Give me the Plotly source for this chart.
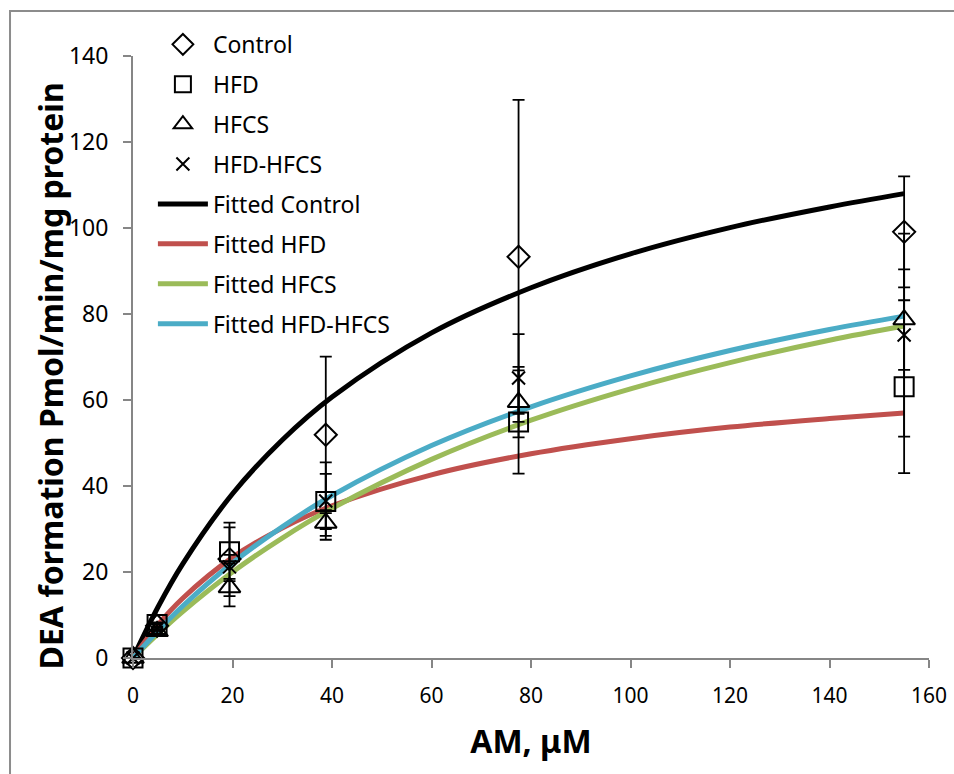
import plotly.graph_objects as go

# ---- data ----
am = [0, 4.84, 19.4, 38.75, 77.5, 155]

control = [0, 7.5, 23.0, 51.9, 93.3, 99.1]
control_err = [0, 0.5, 1.0, 18.2, 36.5, 12.9]
hfd = [0, 7.8, 24.7, 36.4, 54.9, 63.1]
hfd_err = [0, 0.5, 6.8, 6.4, 12.0, 20.1]
hfcs = [0, 6.2, 16.4, 31.4, 59.5, 78.7]
hfcs_err = [0, 0.5, 2.0, 3.0, 8.2, 11.7]
hfdhfcs = [0, 6.8, 21.2, 36.5, 65.1, 75.1]
hfdhfcs_err = [0, 0.5, 9.2, 9.0, 10.2, 23.6]

# fitted curves
fit_x = [0, 5, 10, 20, 30, 40, 60, 80, 100, 120, 140, 155]
fit_control = [0, 11.8, 21.9, 38.2, 50.7, 60.7, 75.6, 86.1, 94.0, 100.1, 104.9, 108.0]
fit_hfd = [0, 7.7, 13.9, 23.4, 30.2, 35.4, 42.6, 47.5, 51.0, 53.7, 55.7, 57.0]
fit_hfcs = [0, 5.6, 10.8, 20.0, 27.9, 34.8, 46.2, 55.3, 62.6, 68.7, 73.9, 77.2]
fit_hfdhfcs = [0, 6.3, 12.1, 22.1, 30.5, 37.8, 49.4, 58.4, 65.6, 71.5, 76.4, 79.5]

x_ticks = [0, 20, 40, 60, 80, 100, 120, 140, 160]
y_ticks = [0, 20, 40, 60, 80, 100, 120, 140]

FONT = "Noto Sans"

fig = go.Figure()

marker_series = [
    ("Control", control, control_err, "diamond-open", 17),
    ("HFD", hfd, hfd_err, "square-open", 19),
    ("HFCS", hfcs, hfcs_err, "triangle-up-open", 19),
    ("HFD-HFCS", hfdhfcs, hfdhfcs_err, "x-thin-open", 13),
]
line_series = [
    ("Fitted Control", fit_control, "#000000"),
    ("Fitted HFD", fit_hfd, "#C0504D"),
    ("Fitted HFCS", fit_hfcs, "#9BBB59"),
    ("Fitted HFD-HFCS", fit_hfdhfcs, "#4BACC6"),
]

for name, ys, col in line_series:
    fig.add_trace(go.Scatter(
        x=fit_x, y=ys, mode="lines", name=name,
        line=dict(color=col, width=5, shape="spline"),
        legendgroup=name, legendrank=2, cliponaxis=False,
    ))

for name, ys, err, sym, sz in marker_series:
    fig.add_trace(go.Scatter(
        x=am, y=ys, mode="markers", name=name,
        marker=dict(symbol=sym, size=sz, color="#000000",
                    line=dict(color="#000000", width=2)),
        error_y=dict(type="data", array=err, visible=True,
                     color="#000000", thickness=1.8, width=6),
        legendgroup=name, legendrank=1, cliponaxis=False,
    ))

# outer chart frame
fig.add_shape(type="rect", xref="paper", yref="paper",
              x0=-0.1545, x1=1.04, y0=-0.21, y1=1.0748,
              line=dict(color="#8C8C8C", width=2), fillcolor="rgba(0,0,0,0)",
              layer="below")

# y-axis title placed as annotation (Excel positions it slightly below centre)
fig.add_annotation(
    text="<b>DEA formation Pmol/min/mg protein</b>",
    xref="paper", yref="paper", x=-0.104, y=0.468,
    xanchor="center", yanchor="middle", textangle=-90, showarrow=False,
    font=dict(family=FONT, size=32, color="#000000"),
)

fig.update_layout(
    width=954, height=774,
    margin=dict(l=133, r=25, t=56, b=116, autoexpand=False),
    paper_bgcolor="white", plot_bgcolor="white",
    font=dict(family=FONT, color="#000000"),
    showlegend=True,
    legend=dict(
        x=0.025, y=1.055, xanchor="left", yanchor="top",
        font=dict(family=FONT, size=23, color="#000000"),
        bgcolor="rgba(0,0,0,0)", tracegroupgap=7, itemwidth=50,
    ),
    xaxis=dict(
        range=[0, 160], tickvals=x_ticks, ticktext=[str(v) for v in x_ticks],
        showgrid=False, zeroline=False, showline=True, automargin=False,
        linecolor="#868686", linewidth=2,
        ticks="outside", ticklen=8, tickwidth=2, tickcolor="#868686",
        ticklabelstandoff=10,
        tickfont=dict(family="Liberation Sans Narrow, " + FONT, size=21),
        title=dict(text="<b>AM, μM</b>", standoff=22,
                   font=dict(family="Liberation Sans Narrow, " + FONT, size=32)),
    ),
    yaxis=dict(
        range=[0, 140], tickvals=y_ticks, ticktext=[str(v) for v in y_ticks],
        showgrid=False, zeroline=False, showline=True, automargin=False,
        linecolor="#868686", linewidth=2,
        ticks="outside", ticklen=8, tickwidth=2, tickcolor="#868686",
        ticklabelstandoff=10,
        tickfont=dict(family=FONT, size=23),
    ),
)

fig.write_html("out.html")
